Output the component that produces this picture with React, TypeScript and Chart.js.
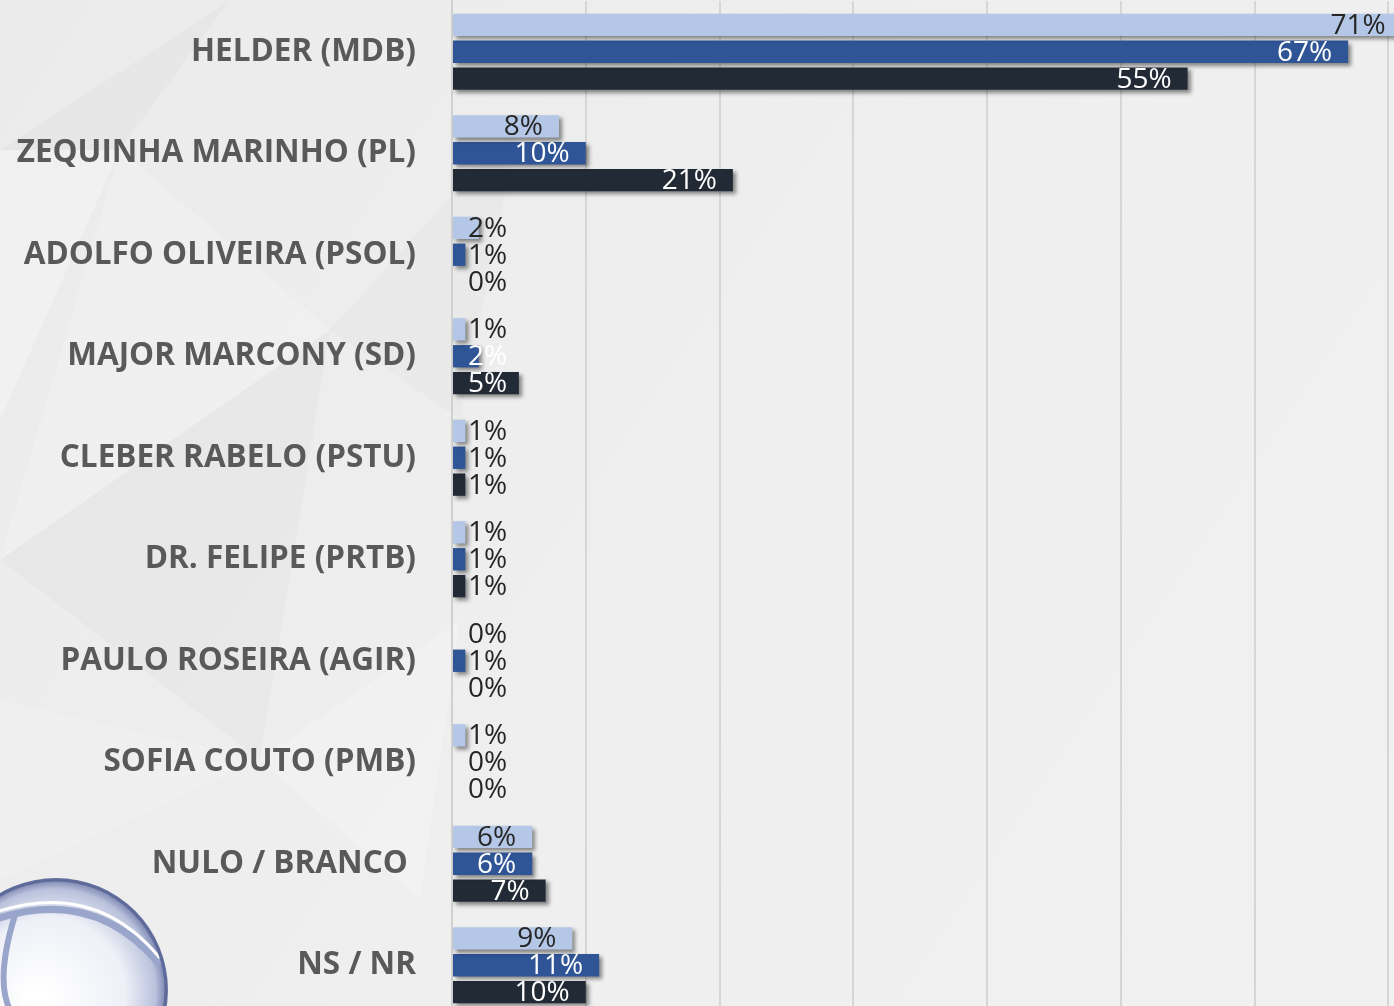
import React, { useEffect, useRef } from "react";
import { Chart, registerables } from "chart.js";

Chart.register(...registerables);

const categories = [
  "HELDER (MDB)",
  "ZEQUINHA MARINHO (PL)",
  "ADOLFO OLIVEIRA (PSOL)",
  "MAJOR MARCONY (SD)",
  "CLEBER RABELO (PSTU)",
  "DR. FELIPE (PRTB)",
  "PAULO ROSEIRA (AGIR)",
  "SOFIA COUTO (PMB)",
  "NULO / BRANCO ",
  "NS / NR",
];
const seriesA = [71, 8, 2, 1, 1, 1, 0, 1, 6, 9];
const seriesB = [67, 10, 1, 2, 1, 1, 1, 0, 6, 11];
const seriesC = [55, 21, 0, 5, 1, 1, 0, 0, 7, 10];
const seriesNames = ["Pesquisa 1", "Pesquisa 2", "Pesquisa 3"];
const xTicks = [0, 10, 20, 30, 40, 50, 60, 70, 80];

const COLORS = ["#b4c7e7", "#2f5597", "#222a35"];
const LABEL_DARK = "#262626";

const bgPlugin = {
  id: "bgPlugin",
  beforeDraw(chart: any) {
    const { ctx, width, height } = chart;
    ctx.save();
    const g = ctx.createLinearGradient(0, 0, width, height);
    g.addColorStop(0, "#ebebeb");
    g.addColorStop(0.5, "#efefef");
    g.addColorStop(1, "#f1f1f1");
    ctx.fillStyle = g;
    ctx.fillRect(0, 0, width, height);
    const polys: [number, number][][] = [
      [[0, 150], [120, 150], [0, 420]],
      [[0, 150], [230, 0], [120, 150]],
      [[120, 150], [330, 330], [0, 560]],
      [[330, 330], [520, 120], [460, 420]],
      [[0, 560], [330, 330], [260, 760]],
      [[260, 760], [460, 620], [420, 900]],
      [[0, 700], [260, 760], [0, 880]],
    ];
    const fills = ["rgba(255,255,255,0.25)", "rgba(0,0,0,0.018)", "rgba(255,255,255,0.18)", "rgba(0,0,0,0.015)", "rgba(0,0,0,0.02)", "rgba(255,255,255,0.22)", "rgba(255,255,255,0.15)"];
    polys.forEach((p, i) => {
      ctx.beginPath();
      ctx.moveTo(p[0][0], p[0][1]);
      for (let k = 1; k < p.length; k++) ctx.lineTo(p[k][0], p[k][1]);
      ctx.closePath();
      ctx.fillStyle = fills[i % fills.length];
      ctx.fill();
    });
    // logo sphere
    const cx = 56, cy = 990, r = 112;
    ctx.save();
    ctx.beginPath();
    ctx.arc(cx, cy, r, 0, Math.PI * 2);
    const rg = ctx.createRadialGradient(cx - 20, cy + 10, 10, cx, cy, r);
    rg.addColorStop(0, "#ffffff");
    rg.addColorStop(0.65, "#eef0f7");
    rg.addColorStop(0.9, "#b9c1dc");
    rg.addColorStop(1, "#6e7aa6");
    ctx.fillStyle = rg;
    ctx.fill();
    ctx.clip();
    ctx.lineWidth = 7;
    ctx.strokeStyle = "#9aa5cb";
    ctx.beginPath();
    ctx.moveTo(-20, 925);
    ctx.quadraticCurveTo(90, 880, 160, 965);
    ctx.stroke();
    ctx.lineWidth = 3;
    ctx.strokeStyle = "#ffffff";
    ctx.beginPath();
    ctx.moveTo(-20, 918);
    ctx.quadraticCurveTo(90, 873, 160, 958);
    ctx.stroke();
    ctx.lineWidth = 6;
    ctx.strokeStyle = "#9aa5cb";
    ctx.beginPath();
    ctx.moveTo(15, 915);
    ctx.quadraticCurveTo(-5, 980, 10, 1010);
    ctx.stroke();
    ctx.lineWidth = 3;
    ctx.strokeStyle = "#5d6a9a";
    ctx.beginPath();
    ctx.arc(cx, cy, r - 2, 0, Math.PI * 2);
    ctx.stroke();
    ctx.restore();
    ctx.restore();
  },
};

const shadowPlugin = {
  id: "shadowPlugin",
  beforeDatasetsDraw(chart: any) {
    const ctx = chart.ctx;
    ctx.save();
    ctx.shadowColor = "rgba(0,0,0,0.45)";
    ctx.shadowBlur = 4;
    ctx.shadowOffsetX = 3;
    ctx.shadowOffsetY = 3;
  },
  afterDatasetsDraw(chart: any) {
    chart.ctx.restore();
  },
};

const labelPlugin = {
  id: "labelPlugin",
  afterDraw(chart: any) {
    const ctx = chart.ctx;
    const left = chart.chartArea.left;
    ctx.save();
    ctx.font = "28px 'Open Sans'";
    ctx.textBaseline = "middle";
    ctx.textAlign = "left";
    chart.data.datasets.forEach((ds: any, di: number) => {
      const meta = chart.getDatasetMeta(di);
      meta.data.forEach((bar: any, i: number) => {
        const v = ds.data[i];
        const txt = v + "%";
        const w = ctx.measureText(txt).width;
        const x = Math.max(left + 16, bar.x - 16 - w);
        ctx.fillStyle = di > 0 && v >= 2 ? "#ffffff" : LABEL_DARK;
        ctx.fillText(txt, x, bar.y + 1);
      });
    });
    ctx.restore();
  },
};

export default function App() {
  const ref = useRef<HTMLCanvasElement>(null);
  useEffect(() => {
    const prevMargin = document.body.style.margin;
    document.body.style.margin = "0";
    const chart = new Chart(ref.current!, {
      type: "bar",
      data: {
        labels: categories,
        datasets: [seriesA, seriesB, seriesC].map((d, i) => ({
          label: seriesNames[i],
          data: d,
          backgroundColor: COLORS[i],
          borderWidth: 0,
          categoryPercentage: 0.795,
          barPercentage: 0.83,
        })),
      },
      options: {
        indexAxis: "y",
        responsive: false,
        animation: false,
        layout: { padding: { top: 1, bottom: 0, left: 0, right: 0 } },
        plugins: { legend: { display: false }, tooltip: { enabled: false } },
        scales: {
          x: {
            min: 0,
            max: 80,
            afterBuildTicks: (scale: any) => {
              scale.ticks = xTicks.map((v) => ({ value: v }));
            },
            afterFit: (scale: any) => {
              scale.height = 0;
              scale.paddingLeft = 0;
              scale.paddingRight = 0;
            },
            ticks: { display: false },
            grid: { color: "#d6d6d6", lineWidth: 2, drawTicks: false },
            border: { display: false },
          },
          y: {
            afterFit: (scale: any) => {
              scale.width = 452;
              scale.paddingTop = 0;
              scale.paddingBottom = 0;
            },
            ticks: {
              color: "#595959",
              padding: 36,
              font: { family: "'Open Sans'", size: 31.5, weight: "bold" },
            },
            grid: { display: false, drawTicks: false },
            border: { display: true, color: "#d0d0d0", width: 2 },
          },
        },
      },
      plugins: [bgPlugin, shadowPlugin, labelPlugin],
    } as any);
    return () => {
      chart.destroy();
      document.body.style.margin = prevMargin;
    };
  }, []);
  return (
    <div style={{ position: "fixed", left: 0, top: 0, width: 1394, height: 1006, overflow: "hidden", background: "#eeeeee" }}>
      <canvas ref={ref} width={1522} height={1016} style={{ display: "block" }} />
    </div>
  );
}
